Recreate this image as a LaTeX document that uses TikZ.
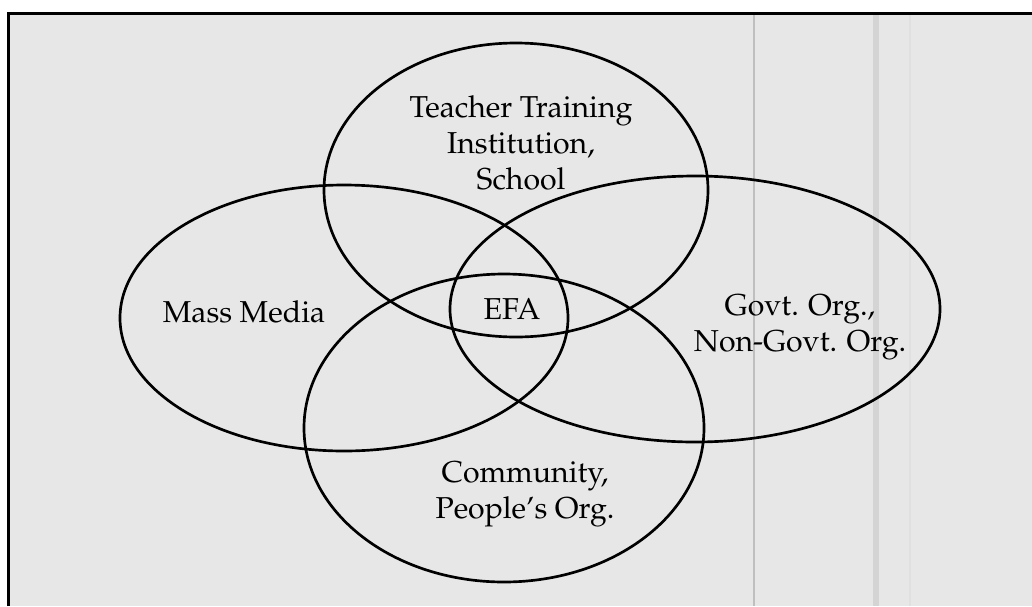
\documentclass[tikz,border=0pt]{standalone}
\usepackage[T1]{fontenc}
\usepackage{mathpazo}
\usepackage{xcolor}
\usepackage{tikz}

\definecolor{paper}{RGB}{231,231,231}

\begin{document}
\begin{tikzpicture}[
    x=0.025cm, y=-0.025cm,
    venn/.style={draw=black, line width=1.9pt},
    lbl/.style={align=center, inner sep=0pt, text=black, font=\fontsize{21.5}{25.6}\selectfont},
    crease/.style={draw=black!25, line width=1pt}
]
\useasboundingbox (0,0) rectangle (1032,606);

% Page
\fill[paper] (8,13) rectangle (1032,606);
\draw[crease] (754,13) -- (754,606);
\draw[crease, line width=4pt, draw=black!17] (876,13) -- (876,606);
\draw[crease, draw=black!12] (910,13) -- (910,606);
\draw[line width=2.4pt] (8.5,606) -- (8.5,13.5) -- (1032,13.5);

% Centres of the sets
\coordinate (teach) at (516,190);
\coordinate (media) at (344,318);
\coordinate (govt)  at (695,309);
\coordinate (comm)  at (504,428);

% Sets
\draw[venn] (teach) ellipse [x radius=192, y radius=147];
\draw[venn] (media) ellipse [x radius=224, y radius=133];
\draw[venn] (govt)  ellipse [x radius=245, y radius=133];
\draw[venn] (comm)  ellipse [x radius=200, y radius=154];

% Labels
\node[lbl] (teachlbl) at (521,143) {Teacher Training\\Institution,\\School};
\node[lbl] (medialbl) at (244,312) {Mass Media};
\node[lbl] (efa)      at (512,309) {EFA};
\node[lbl] (govtlbl)  at (800,327) {Govt. Org.,\\Non-Govt. Org.};
\node[lbl] (commlbl)  at (525,494) {Community,\\People's Org.};

\end{tikzpicture}
\end{document}
